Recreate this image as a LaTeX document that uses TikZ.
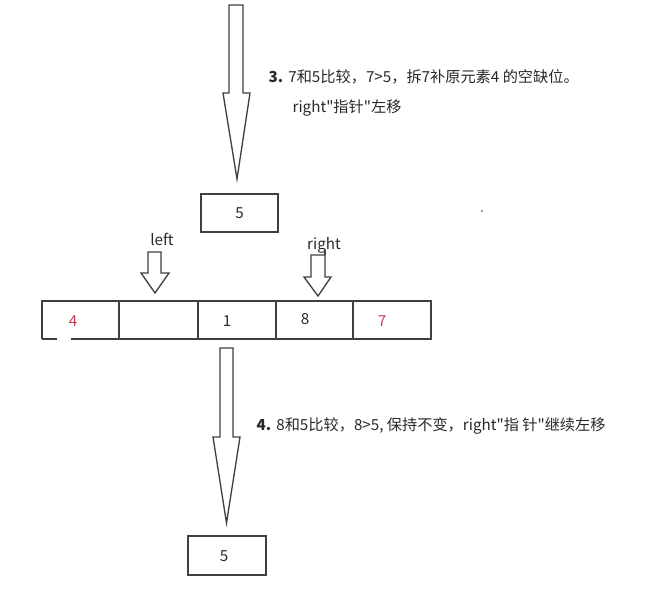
\documentclass[tikz,border=0pt]{standalone}
\usepackage{fontspec}
\setmainfont{Noto Sans CJK SC}
\usetikzlibrary{positioning}

\definecolor{lineGray}{RGB}{64,64,64}
\definecolor{textGray}{RGB}{40,40,40}
\definecolor{numRed}{RGB}{196,62,82}

\tikzset{every picture/.style={line width=1pt}}
\tikzset{
  blockarrow/.style={draw=lineGray, fill=white, line join=miter},
  cellline/.style={draw=lineGray},
  txt/.style={inner sep=0.75pt, text=textGray, font=\fontsize{11.4pt}{13pt}\selectfont},
  num/.style={txt, anchor=center},
}
\newcommand{\qt}{\textquotedbl}

\begin{document}
\begin{tikzpicture}[x=0.75pt,y=0.75pt,yscale=-1,xscale=1]
\useasboundingbox (0,0) rectangle (646,601);

%Shape: Block Arrow [id:top]
\draw [blockarrow] (229,5) -- (243,5) -- (243,93) -- (250,93) -- (237,179) -- (223,93) -- (229,93) -- cycle ;
%Shape: Rectangle [id:pivotTop]
\draw [cellline] (201,194) rectangle (278,232) ;
% Text Node
\node (pivotTop) [num] at (239.5,213) {5};

% Text Node
\node (stepThree) [txt, anchor=west] at (267,77) {\textbf{3.}\,\,7和5比较，7>5，拆7补原元素4 的空缺位。};
% Text Node
\node (stepThreeB) [txt, anchor=west] at (291,108) {right\qt 指针\qt 左移};

%Shape: Dot
\fill [lineGray] (482,211) circle (0.9) ;

% Text Node
\node (leftLbl) [txt] at (162,239) {left};
% Text Node
\node (rightLbl) [txt] at (324,245) {right};
%Shape: Block Arrow [id:leftPtr]
\draw [blockarrow] (148,252) -- (161,252) -- (161,273) -- (169,273) -- (155,293) -- (141,273) -- (148,273) -- cycle ;
%Shape: Block Arrow [id:rightPtr]
\draw [blockarrow] (311,255) -- (325,255) -- (325,277) -- (331,277) -- (318,296) -- (304,277) -- (311,277) -- cycle ;
\draw [cellline] (325,255) -- (325,250) ;

%Shape: Array
\draw [cellline] (42,339) -- (42,301) -- (431,301) -- (431,339) -- (71,339) ;
\draw [cellline] (42,339) -- (57,339) ;
\draw [cellline] (119,301) -- (119,339) ;
\draw [cellline] (198,301) -- (198,339) ;
\draw [cellline] (276,301) -- (276,339) ;
\draw [cellline] (353,301) -- (353,339) ;

% Text Node
\node (cellA) [num, text=numRed] at (73,321) {4};
% Text Node
\node (cellC) [num] at (227,321) {1};
% Text Node
\node (cellD) [num] at (305,319) {8};
% Text Node
\node (cellE) [num, text=numRed] at (382,321) {7};

%Shape: Block Arrow [id:bottom]
\draw [blockarrow] (220,348) -- (233,348) -- (233,437) -- (240,437) -- (226.5,523) -- (213,437) -- (220,437) -- cycle ;
%Shape: Rectangle [id:pivotBottom]
\draw [cellline] (188,536) rectangle (266,575) ;
% Text Node
\node (pivotBottom) [num] at (224,556) {5};

% Text Node
\node (stepFour) [txt, anchor=west] at (255,426) {\textbf{4.}\,\,8和5比较，8>5, 保持不变，right\qt 指 针\qt 继续左移};

\end{tikzpicture}
\end{document}
